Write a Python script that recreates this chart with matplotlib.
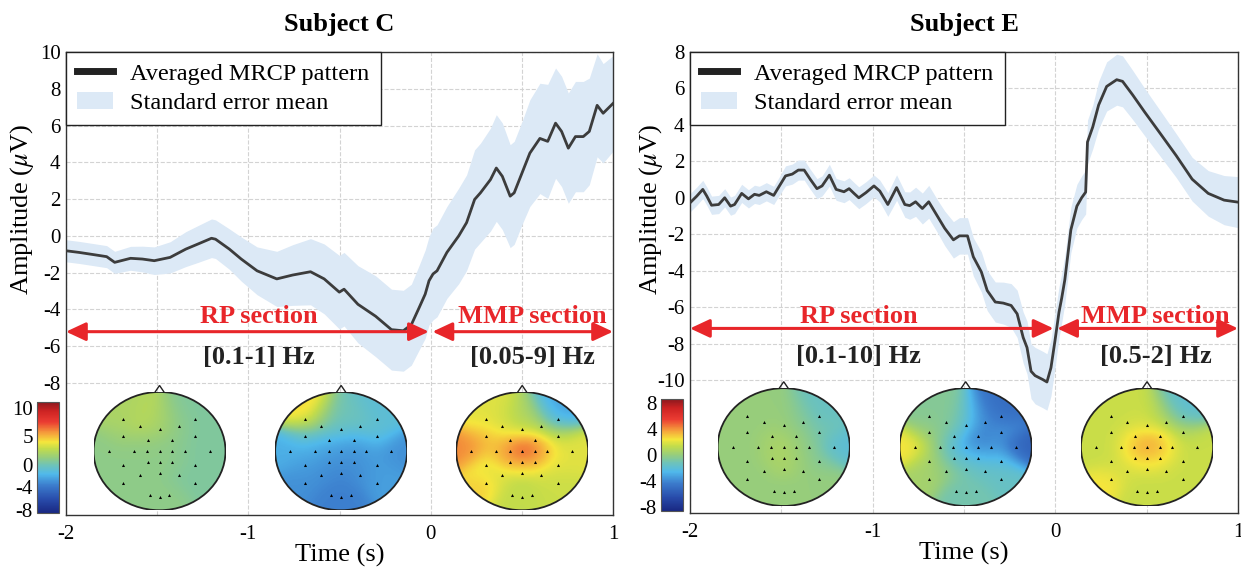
import numpy as np
import matplotlib
matplotlib.use('Agg')
import matplotlib.pyplot as plt
from matplotlib.colors import LinearSegmentedColormap, Normalize
from matplotlib.patches import Circle, Polygon, Patch
from matplotlib.lines import Line2D
import matplotlib.cm as cm

plt.rcParams['font.family'] = ['Liberation Serif', 'DejaVu Serif']
plt.rcParams['mathtext.fontset'] = 'stix'
plt.rcParams['axes.unicode_minus'] = False

# ---- Subject C: averaged MRCP and SEM half-width ----
t_c = [-2.0, -1.928, -1.842, -1.777, -1.733, -1.646, -1.581, -1.516, -1.429, -1.343,
       -1.278, -1.202, -1.180, -1.104, -1.039, -0.952, -0.844, -0.757, -0.659, -0.584,
       -0.501, -0.475, -0.399, -0.302, -0.215, -0.150, -0.106, -0.063, -0.030, -0.009,
       0.013, 0.035, 0.089, 0.154, 0.197, 0.241, 0.273, 0.328, 0.360, 0.393,
       0.436, 0.458, 0.501, 0.544, 0.599, 0.642, 0.685, 0.718, 0.755, 0.794,
       0.837, 0.870, 0.913, 0.946, 1.0]
mean_c = [-0.81, -0.90, -1.03, -1.13, -1.44, -1.22, -1.26, -1.35, -1.17, -0.72,
          -0.45, -0.13, -0.18, -0.72, -1.26, -1.90, -2.34, -2.13, -1.95, -2.34,
          -3.06, -2.90, -3.72, -4.37, -5.10, -5.16, -4.83, -3.90, -3.17, -2.44,
          -2.07, -1.90, -0.90, 0.0, 0.72, 1.98, 2.34, 3.06, 3.69, 3.24,
          2.16, 2.34, 3.42, 4.50, 5.30, 5.14, 6.13, 5.68, 4.77, 5.40,
          5.40, 5.68, 7.10, 6.67, 7.20]
sem_c = [0.6, 0.6, 0.6, 0.6, 0.6, 0.65, 0.7, 0.75, 0.85, 0.95,
         1.0, 1.05, 1.05, 1.1, 1.2, 1.3, 1.5, 1.65, 1.8, 1.9,
         2.0, 2.0, 2.1, 2.2, 2.2, 2.2, 2.2, 2.3, 2.4, 2.4,
         2.5, 2.5, 2.5, 2.6, 2.6, 2.7, 2.7, 2.8, 2.9, 2.9,
         2.8, 2.8, 2.8, 2.9, 3.0, 3.1, 3.0, 3.0, 3.0, 3.0,
         3.0, 2.9, 2.8, 2.7, 2.6]

# ---- Subject E ----
t_e = [-2.0, -1.963, -1.930, -1.908, -1.882, -1.843, -1.810, -1.778, -1.756, -1.717,
       -1.680, -1.647, -1.621, -1.582, -1.542, -1.516, -1.477, -1.440, -1.407, -1.375,
       -1.342, -1.305, -1.277, -1.237, -1.200, -1.157, -1.129, -1.102, -1.076, -1.037,
       -0.993, -0.961, -0.917, -0.869, -0.824, -0.797, -0.765, -0.728, -0.693, -0.645,
       -0.606, -0.558, -0.525, -0.481, -0.449, -0.405, -0.373, -0.329, -0.285, -0.242,
       -0.209, -0.176, -0.155, -0.133, -0.111, -0.068, -0.046, -0.024, -0.002, 0.020,
       0.035, 0.052, 0.085, 0.118, 0.144, 0.166, 0.176, 0.205, 0.237, 0.281,
       0.336, 0.368, 0.423, 0.488, 0.575, 0.662, 0.749, 0.837, 0.924, 1.0]
mean_e = [-0.28, 0.09, 0.46, 0.09, -0.41, -0.37, 0.0, -0.46, -0.37, 0.24,
          -0.06, 0.19, 0.13, 0.33, 0.13, 0.56, 1.20, 1.30, 1.52, 1.52,
          1.02, 0.50, 0.65, 1.24, 0.46, 0.33, 0.50, 0.24, 0.0, 0.28,
          0.65, 0.37, -0.37, 0.56, -0.37, -0.43, -0.22, -0.59, -0.22, -1.02,
          -1.67, -2.31, -2.09, -2.09, -3.24, -4.07, -5.09, -5.72, -5.78, -5.91,
          -6.37, -7.67, -8.22, -9.52, -9.76, -9.98, -10.11, -9.33, -7.85, -6.28,
          -5.50, -4.50, -1.76, -0.46, 0.0, 0.31, 3.06, 3.89, 5.09, 6.11,
          6.48, 6.39, 5.65, 4.72, 3.52, 2.31, 1.02, 0.24, -0.13, -0.24]
sem_e = [0.5, 0.5, 0.5, 0.5, 0.5, 0.5, 0.5, 0.5, 0.5, 0.5,
         0.5, 0.5, 0.5, 0.5, 0.5, 0.5, 0.55, 0.55, 0.55, 0.55,
         0.55, 0.55, 0.55, 0.6, 0.6, 0.6, 0.6, 0.6, 0.6, 0.6,
         0.6, 0.6, 0.65, 0.7, 0.7, 0.75, 0.8, 0.85, 0.9, 0.9,
         0.95, 1.0, 1.0, 1.0, 1.05, 1.1, 1.1, 1.1, 1.15, 1.2,
         1.3, 1.4, 1.45, 1.5, 1.55, 1.55, 1.55, 1.55, 1.5, 1.4,
         1.35, 1.3, 1.25, 1.2, 1.2, 1.2, 1.2, 1.2, 1.3, 1.35,
         1.4, 1.4, 1.35, 1.3, 1.25, 1.2, 1.2, 1.25, 1.35, 1.4]

# ---- electrode layout (unit head) ----
elec_x = [-0.55, 0.54, -0.30, 0.0, 0.29, -0.55, -0.18, 0.19, 0.54,
          -0.77, -0.39, -0.19, 0.0, 0.19, 0.38, 0.76,
          -0.55, -0.18, 0.0, 0.19, 0.54, -0.30, 0.0, 0.29,
          -0.55, 0.54, -0.15, 0.0, 0.15]
elec_y = [0.535, 0.535, 0.42, 0.38, 0.42, 0.25, 0.19, 0.19, 0.25,
          0.0, 0.0, 0.0, 0.0, 0.0, 0.0, 0.0,
          -0.24, -0.19, -0.19, -0.19, -0.24, -0.41, -0.37, -0.41,
          -0.54, -0.54, -0.75, -0.77, -0.75]

# topography values at electrodes (uV)
topo_c_rp1 = [2.0, 0.5, 2.5, 2.0, 1.0, 1.5, 1.5, 1.0, 0.5,
              1.0, 1.0, 1.0, 1.0, 1.0, 0.5, 0.5,
              1.0, 1.0, 1.0, 1.0, 0.5, 1.0, 1.0, 0.5,
              1.0, 0.5, 1.0, 1.0, 1.0]
topo_c_rp2 = [4.5, -1.0, 1.0, 0.0, 0.0, -1.0, -1.5, -2.0, -1.0,
              -2.0, -2.0, -2.5, -2.5, -3.0, -2.5, -3.0,
              -2.5, -3.0, -3.0, -3.0, -2.5, -3.0, -3.5, -3.0,
              -3.0, -2.5, -3.5, -3.5, -3.5]
topo_c_mmp = [3.5, -2.5, 3.0, 2.0, 1.5, 5.0, 4.5, 5.0, 3.0,
              6.0, 4.5, 6.0, 8.5, 7.0, 4.0, 3.5,
              3.5, 5.0, 6.0, 5.0, 3.5, 3.0, 2.0, 3.0,
              4.5, 3.0, 3.0, 2.5, 3.0]
topo_e_rp1 = [0.0, -1.5, 0.0, 0.0, -0.5, 0.0, 0.5, 0.0, -1.0,
              0.0, 0.0, 0.5, 1.0, 0.0, -0.5, -2.0,
              0.0, 0.5, 1.0, 0.0, -0.5, 0.0, 0.5, 0.0,
              0.0, 0.0, 0.0, 0.0, 0.0]
topo_e_rp2 = [-0.5, -5.0, -0.5, -1.5, -4.0, 0.0, -1.0, -4.5, -3.5,
              2.5, 0.0, -2.0, -4.5, -4.0, -3.5, -5.5,
              0.5, -1.0, -1.5, -2.0, -2.0, 0.0, -1.0, -1.5,
              0.5, -1.5, -1.0, -1.0, -1.0]
topo_e_mmp = [1.5, -2.0, 1.5, 1.5, 0.5, 1.5, 2.5, 3.0, 1.0,
              1.5, 1.5, 3.5, 4.5, 3.5, 1.5, 1.5,
              1.5, 2.5, 3.0, 2.5, 1.5, 1.5, 1.5, 1.5,
              2.5, 1.5, 1.5, 1.5, 1.5]

cbar_ticks_c = [-8, -4, 0, 5, 10]
cbar_ticks_e = [-8, -4, 0, 4, 8]

# muted jet-like colormap as in the figure
cmap = LinearSegmentedColormap.from_list('topo', [
    (0.00, (25/255, 40/255, 130/255)),
    (0.12, (40/255, 75/255, 170/255)),
    (0.25, (60/255, 125/255, 205/255)),
    (0.35, (80/255, 185/255, 235/255)),
    (0.43, (110/255, 195/255, 185/255)),
    (0.50, (150/255, 205/255, 125/255)),
    (0.58, (195/255, 220/255, 75/255)),
    (0.64, (245/255, 230/255, 60/255)),
    (0.72, (245/255, 160/255, 60/255)),
    (0.82, (235/255, 60/255, 50/255)),
    (0.92, (205/255, 35/255, 35/255)),
    (1.00, (140/255, 25/255, 30/255))])

red = '#e8262a'
band_col = '#dce9f6'
line_col = '#3c3c3c'


def interp_field(vals, n=160, sigma=0.17):
    # gaussian-kernel smoothing of electrode values over the head
    px = np.array(elec_x)
    py = np.array(elec_y)
    v = np.array(vals, dtype=float)
    gx, gy = np.meshgrid(np.linspace(-1, 1, n), np.linspace(-1, 1, n))
    d2 = (gx[..., None] - px) ** 2 + (gy[..., None] - py) ** 2
    w = np.exp(-d2 / (2 * sigma ** 2)) + 1e-12
    return (w @ v) / w.sum(axis=-1)


def draw_topo(ax, bounds, vals, norm):
    ins = ax.inset_axes(bounds)
    z = interp_field(vals)
    im = ins.imshow(z, extent=(-1, 1, -1, 1), origin='lower', cmap=cmap,
                    norm=norm, interpolation='bilinear', aspect='auto')
    ins.set_xlim(-1, 1)
    ins.set_ylim(-1, 1)
    ins.axis('off')
    head = Circle((0, 0), 1, transform=ins.transData, facecolor='none',
                  edgecolor='#222222', lw=1.3)
    im.set_clip_path(head)
    ins.add_patch(head)
    nose = Polygon([[-0.07, 0.995], [0, 1.11], [0.07, 0.995]], closed=False,
                   fill=False, edgecolor='#222222', lw=1.0, clip_on=False)
    ins.add_patch(nose)
    ins.plot(elec_x, elec_y, '^', color='black', ms=2.2, mew=0)


def draw_panel(ax, t, mean, sem, title, ylim, yticks, arrow_y, rp_text, mmp_text,
               rp_x, mmp_x, sec_y, hz_y, topos, norm, topo_y, cax, cticks):
    t = np.array(t)
    mean = np.array(mean)
    sem = np.array(sem)
    ax.fill_between(t, mean - sem, mean + sem, color=band_col, lw=0, zorder=2)
    ax.plot(t, mean, color=line_col, lw=2, zorder=3, solid_joinstyle='round')
    ax.set_xlim(-2, 1)
    ax.set_ylim(*ylim)
    ax.set_xticks([-2, -1, 0, 1])
    ax.set_xticks([-1.5, -0.5, 0.5], minor=True)
    ax.set_yticks(yticks)
    ax.grid(True, which='both', axis='x', ls='--', color='#d3d3d3', lw=0.8)
    ax.grid(True, which='major', axis='y', ls='--', color='#d3d3d3', lw=0.8)
    ax.set_axisbelow(True)
    ax.tick_params(which='both', length=0, labelsize=15)
    ax.tick_params(axis='x', pad=7)
    ax.tick_params(axis='y', pad=4)
    for s in ax.spines.values():
        s.set_color('#333333')
        s.set_linewidth(1.0)
    ax.set_title(title, fontsize=19, fontweight='bold', pad=15)
    ax.set_xlabel('Time (s)', fontsize=19, labelpad=0)
    ax.set_ylabel(r'Amplitude ($\mu$V)', fontsize=19)

    astyle = '<|-|>,head_length=0.6,head_width=0.28'
    ax.annotate('', xy=(-0.01, arrow_y), xytext=(-2, arrow_y),
                arrowprops=dict(arrowstyle=astyle, color=red, lw=2.2,
                                mutation_scale=20, shrinkA=0, shrinkB=0), zorder=6)
    ax.annotate('', xy=(1, arrow_y), xytext=(0.01, arrow_y),
                arrowprops=dict(arrowstyle=astyle, color=red, lw=2.2,
                                mutation_scale=20, shrinkA=0, shrinkB=0), zorder=6)
    ax.text(rp_x, sec_y, 'RP section', color=red, fontsize=19, fontweight='bold',
            ha='center', va='center', zorder=7)
    ax.text(mmp_x, sec_y, 'MMP section', color=red, fontsize=19, fontweight='bold',
            ha='center', va='center', zorder=7)
    ax.text(rp_x, hz_y, rp_text, color='#222222', fontsize=19, fontweight='bold',
            ha='center', va='center', zorder=7)
    ax.text(mmp_x, hz_y, mmp_text, color='#222222', fontsize=19, fontweight='bold',
            ha='center', va='center', zorder=7)

    handles = [Line2D([], [], color='#222222', lw=5),
               Patch(facecolor=band_col, edgecolor='none')]
    leg = ax.legend(handles, ['Averaged MRCP pattern', 'Standard error mean'],
                    loc='upper left', bbox_to_anchor=(0, 1), borderaxespad=0,
                    fancybox=False, edgecolor='#222222', framealpha=1, fontsize=17.5,
                    handlelength=1.5, handletextpad=0.7, borderpad=0.45,
                    labelspacing=0.3)
    leg.get_frame().set_linewidth(1.0)
    leg.set_zorder(8)

    w, h = 0.2413, 0.2555
    for cx, vals in zip([0.171, 0.503, 0.834], topos):
        draw_topo(ax, [cx - w / 2, topo_y - h / 2, w, h], vals, norm)

    cb = fig.colorbar(cm.ScalarMappable(norm=norm, cmap=cmap), cax=cax, ticks=cticks)
    cb.ax.yaxis.set_ticks_position('left')
    cb.ax.tick_params(length=0, labelsize=15, pad=3)
    cb.outline.set_edgecolor('#555555')
    cb.outline.set_linewidth(0.8)


fig = plt.figure(figsize=(12.41, 5.67), dpi=100)
W, H = 1241, 567
ax1 = fig.add_axes([66 / W, (H - 515) / H, 547 / W, 463 / H])
ax2 = fig.add_axes([690 / W, (H - 513) / H, 548 / W, 461 / H])
cax1 = fig.add_axes([37 / W, (H - 513) / H, 22 / W, 111 / H])
cax2 = fig.add_axes([661 / W, (H - 511) / H, 22 / W, 112 / H])

draw_panel(ax1, t_c, mean_c, sem_c, 'Subject C', (-15.18, 10), list(range(-8, 11, 2)),
           -5.21, '[0.1-1] Hz', '[0.05-9] Hz', -0.94, 0.556, -4.39, -6.6,
           [topo_c_rp1, topo_c_rp2, topo_c_mmp], Normalize(-8.5, 11), 0.138,
           cax1, cbar_ticks_c)
draw_panel(ax2, t_e, mean_e, sem_e, 'Subject E', (-17.3, 8), list(range(-10, 9, 2)),
           -7.17, '[0.1-10] Hz', '[0.5-2] Hz', -1.078, 0.55, -6.5, -8.72,
           [topo_e_rp1, topo_e_rp2, topo_e_mmp], Normalize(-8.6, 8.6), 0.143,
           cax2, cbar_ticks_e)

ax1.yaxis.set_label_coords(-0.055, 0.66)
ax2.yaxis.set_label_coords(-0.045, 0.657)

fig.savefig('out.png', dpi=100)
